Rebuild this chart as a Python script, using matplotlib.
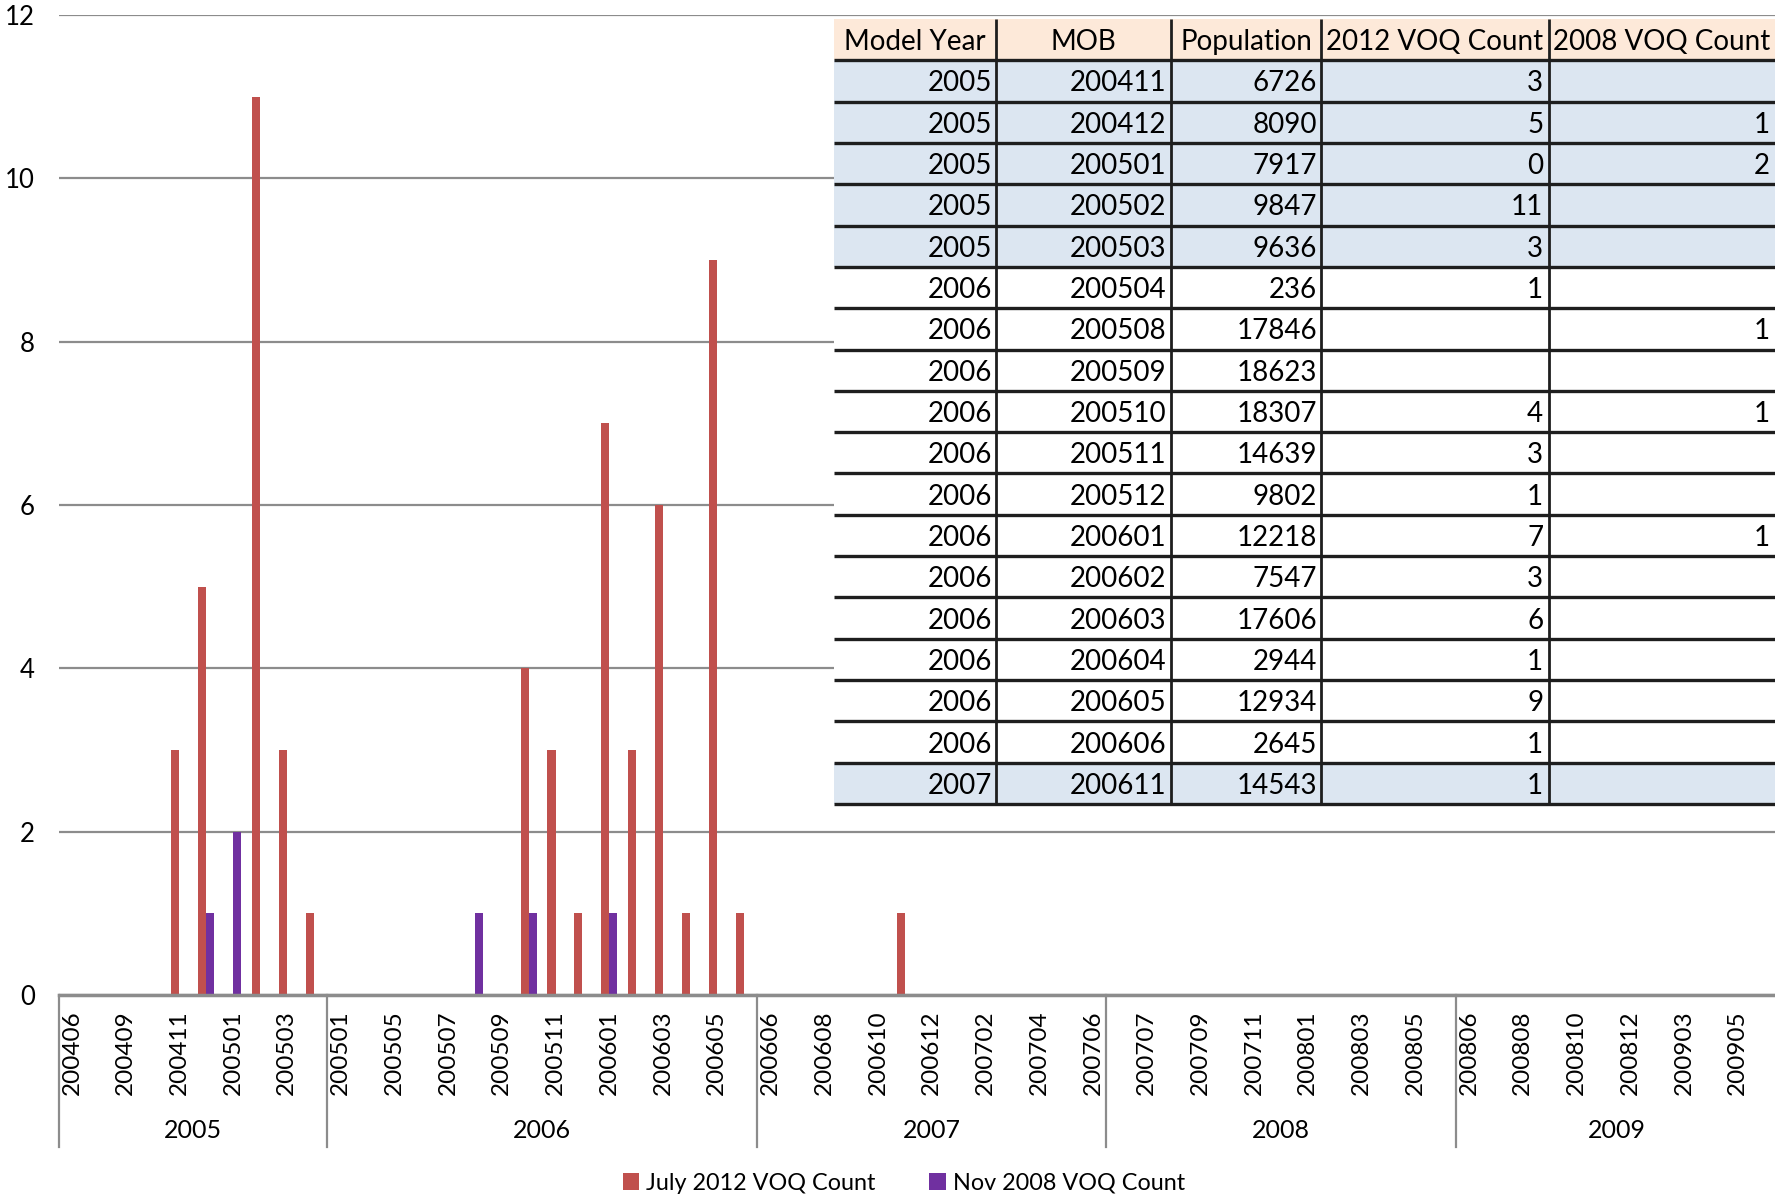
import numpy as np
import matplotlib
matplotlib.use("Agg")
from matplotlib import pyplot as plt

plt.rcParams['font.family'] = ['Lato', 'DejaVu Sans']

"""Chart data: MOB categories grouped by model year"""
years = ['2005', '2006', '2007', '2008', '2009']
mob_2005 = ['200406', '200408', '200409', '200410', '200411', '200412',
            '200501', '200502', '200503', '200504']
mob_2006 = ['200501', '200503', '200505', '200506', '200507', '200508',
            '200509', '200510', '200511', '200512', '200601', '200602',
            '200603', '200604', '200605', '200606']
mob_2007 = ['200606', '200607', '200608', '200609', '200610', '200611',
            '200612', '200701', '200702', '200703', '200704', '200705',
            '200706']
mob_2008 = ['200706', '200707', '200708', '200709', '200710', '200711',
            '200712', '200801', '200802', '200803', '200804', '200805',
            '200806']
mob_2009 = ['200806', '200807', '200808', '200809', '200810', '200811',
            '200812', '200901', '200903', '200904', '200905', '200906']

july2012_2005 = [0, 0, 0, 0, 3, 5, 0, 11, 3, 1]
nov2008_2005 = [0, 0, 0, 0, 0, 1, 2, 0, 0, 0]
july2012_2006 = [0, 0, 0, 0, 0, 0, 0, 4, 3, 1, 7, 3, 6, 1, 9, 1]
nov2008_2006 = [0, 0, 0, 0, 0, 1, 0, 1, 0, 0, 1, 0, 0, 0, 0, 0]
july2012_2007 = [0, 0, 0, 0, 0, 1, 0, 0, 0, 0, 0, 0, 0]
nov2008_2007 = [0] * 13
july2012_2008 = [0] * 13
nov2008_2008 = [0] * 13
july2012_2009 = [0] * 12
nov2008_2009 = [0] * 12

"""Table data"""
tab_cols = ['Model Year', 'MOB', 'Population', '2012 VOQ Count', '2008 VOQ Count']
tab_year = ['2005'] * 5 + ['2006'] * 12 + ['2007']
tab_mob = ['200411', '200412', '200501', '200502', '200503', '200504',
           '200508', '200509', '200510', '200511', '200512', '200601',
           '200602', '200603', '200604', '200605', '200606', '200611']
tab_pop = ['6726', '8090', '7917', '9847', '9636', '236', '17846', '18623',
           '18307', '14639', '9802', '12218', '7547', '17606', '2944',
           '12934', '2645', '14543']
tab_2012 = ['3', '5', '0', '11', '3', '1', '', '', '4', '3', '1', '7', '3',
            '6', '1', '9', '1', '1']
tab_2008 = ['', '1', '2', '', '', '', '1', '', '1', '', '', '1', '', '', '',
            '', '', '']

red = '#C0504D'
purple = '#7030A0'
grid_c = '#8C8C8C'

groups = [mob_2005, mob_2006, mob_2007, mob_2008, mob_2009]
mobs = sum(groups, [])
july = np.array(july2012_2005 + july2012_2006 + july2012_2007
                + july2012_2008 + july2012_2009)
nov = np.array(nov2008_2005 + nov2008_2006 + nov2008_2007
               + nov2008_2008 + nov2008_2009)
x = np.arange(len(mobs))

fig = plt.figure(figsize=(17.75, 12.01), dpi=100)
W, H = 1775, 1201
left, right = 58.5, 1778
ax = fig.add_axes([left / W, 1 - 995 / H, (right - left) / W, (995 - 15) / H])

w = 0.3
ax.bar(x - w / 2, july, w, color=red, linewidth=0, label='July 2012 VOQ Count', zorder=3)
ax.bar(x + w / 2, nov, w, color=purple, linewidth=0, label='Nov 2008 VOQ Count', zorder=3)

ax.set_xlim(-0.5, len(mobs) - 0.5)
ax.set_ylim(0, 12)
ax.set_yticks(range(0, 13, 2))
ax.yaxis.grid(True, color=grid_c, linewidth=1.6, zorder=0)
ax.tick_params(axis='y', length=0, labelsize=18.5, pad=17)
for s in ['top', 'right', 'left']:
    ax.spines[s].set_visible(False)
ax.spines['bottom'].set_color(grid_c)
ax.spines['bottom'].set_linewidth(2.5)
ax.spines['bottom'].set_zorder(4)

# every other category label
ax.set_xticks(x[::2])
ax.set_xticklabels(mobs[::2], rotation=90, fontsize=17.5)
ax.tick_params(axis='x', length=0, pad=11)

# year group separators and labels
trans = ax.get_xaxis_transform()
drop = -152 / 980
edges = np.cumsum([0] + [len(g) for g in groups]) - 0.5
for e in edges:
    ax.plot([e, e], [0, drop], color=grid_c, linewidth=1.6, transform=trans, clip_on=False)
for i, yr in enumerate(years):
    ax.text((edges[i] + edges[i + 1]) / 2, -135 / 980, yr, transform=trans,
            ha='center', va='center', fontsize=18)

fig.legend(loc='center', bbox_to_anchor=(904 / W, 1 - 1183 / H), ncol=2,
           frameon=False, fontsize=16.8, handlelength=0.7, handleheight=0.7,
           handletextpad=0.3, columnspacing=2.3)

"""Table overlay"""
tab_ax = fig.add_axes([834 / W, 1 - 804 / H, (W - 834) / W, 785 / H])
tab_ax.axis('off')
tab_ax.set_xlim(0, 1)
tab_ax.set_ylim(0, 1)
rows = [list(r) for r in zip(tab_year, tab_mob, tab_pop, tab_2012, tab_2008)]
row_fill = {'2005': '#DCE6F1', '2006': 'white', '2007': '#DCE6F1'}
cell_colours = [[row_fill[yr]] * 5 for yr in tab_year]
col_w = np.array([162, 175, 150, 228, 226]) / 941
tbl = tab_ax.table(cellText=rows, colLabels=tab_cols, cellLoc='right',
                   colLoc='center', colWidths=col_w, bbox=[0, 0, 1, 1],
                   cellColours=cell_colours, colColours=['#FDE9D9'] * 5)
tbl.auto_set_font_size(False)
tbl.set_fontsize(20)
for (r, c), cell in tbl.get_celld().items():
    cell.set_linewidth(0)
    cell.PAD = 0.025
    cell.get_text().set_va('center_baseline')

n_rows = len(tab_year) + 1
tab_ax.hlines(np.arange(n_rows) / n_rows, 0, 1, colors='#1E1E1E',
              linewidth=2.4, zorder=20, clip_on=False)
tab_ax.vlines(np.cumsum(col_w)[:-1], 0, 1, colors='#1E1E1E',
              linewidth=2.0, zorder=20, clip_on=False)

fig.savefig('out.png', dpi=100)
